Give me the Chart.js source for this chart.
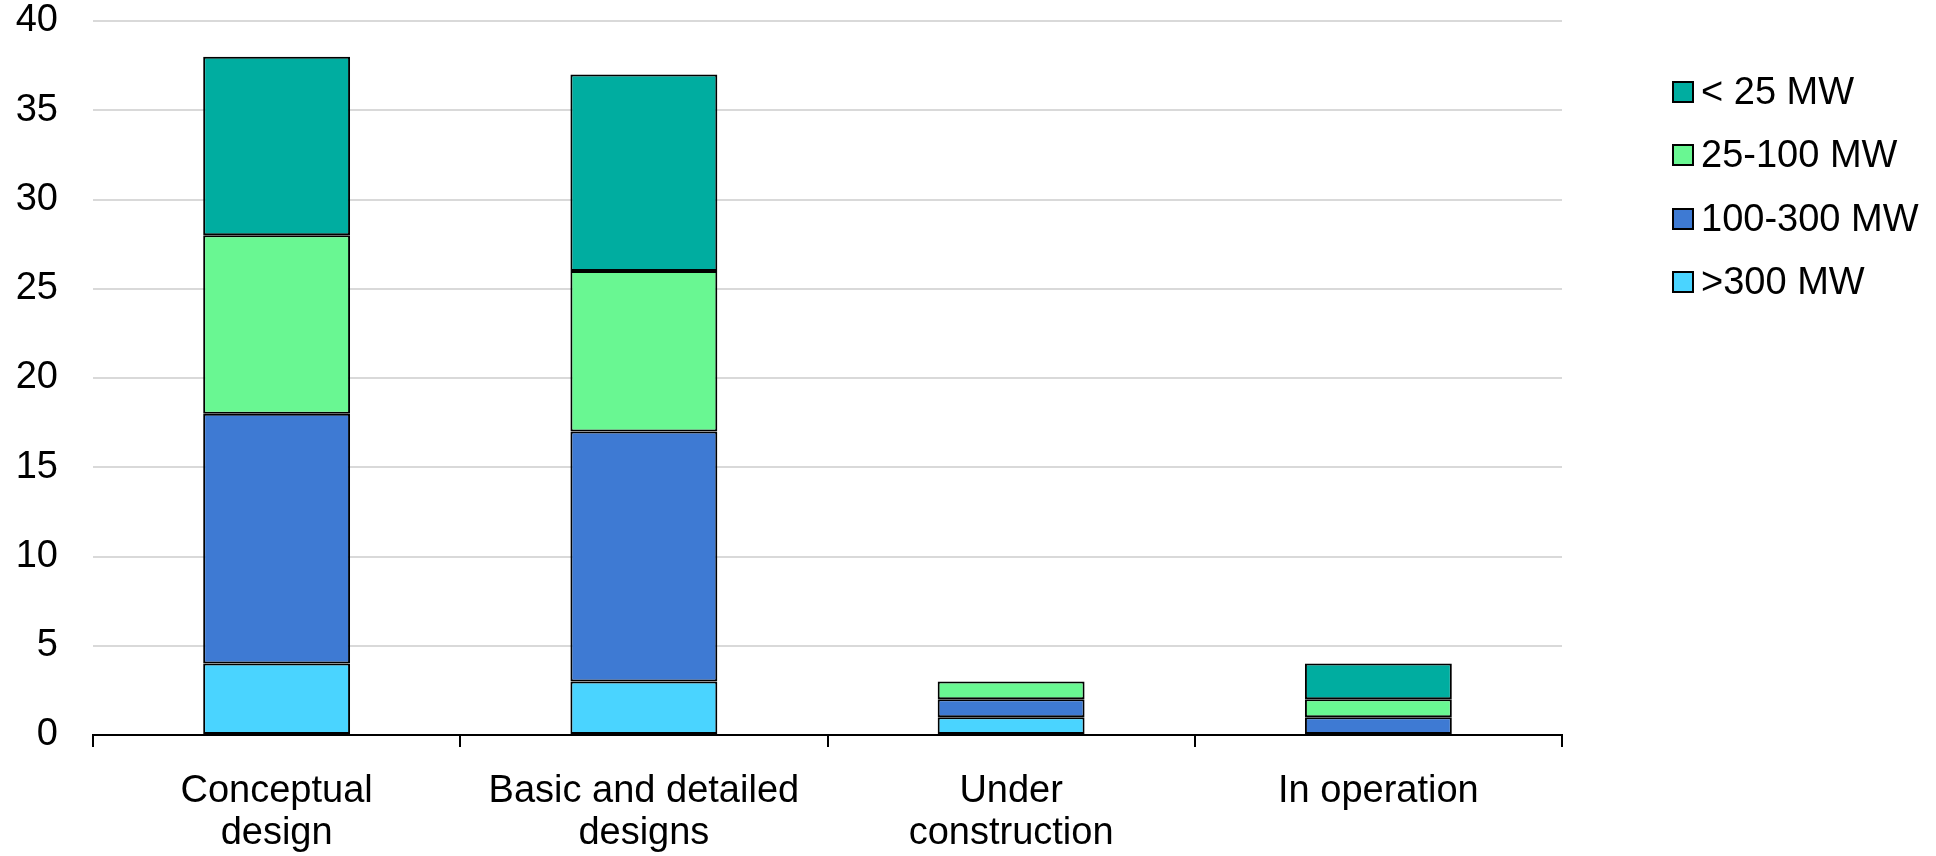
<!DOCTYPE html>
<html>
<head>
<meta charset="utf-8">
<title>Projects by stage and capacity</title>
<script src="https://cdn.jsdelivr.net/npm/chart.js@4.4.1/dist/chart.umd.min.js"></script>
<style>
  html, body { margin: 0; padding: 0; background: #ffffff; }
  #wrap { width: 1936px; height: 856px; position: relative; }
</style>
</head>
<body>
<div id="wrap"><canvas id="chart" width="1936" height="856"></canvas></div>
<script>
// Project stages along the x axis
const stages = [
  ['Conceptual', 'design'],
  ['Basic and detailed', 'designs'],
  ['Under', 'construction'],
  'In operation'
];

// Number of projects per capacity class, one value per stage
const over300MW   = [4, 3, 1, 0];
const mw100to300  = [14, 14, 1, 1];
const mw25to100   = [10, 9, 1, 1];
const under25MW   = [10, 11, 0, 2];

// Y axis range
const yMin = 0;
const yMax = 40;
const yStep = 5;

const FONT = '"Liberation Sans", Arial, Helvetica, sans-serif';
const FONT_SIZE = 38;

// Legend drawn at the right, top row = top of the stack
const sideLegend = {
  id: 'sideLegend',
  afterDraw(chart) {
    const ctx = chart.ctx;
    const items = chart.data.datasets.slice().reverse();
    const boxX = 1673, box = 20, textX = 1701, rowY0 = 92, rowGap = 63.3;
    ctx.save();
    ctx.font = FONT_SIZE + 'px ' + FONT;
    ctx.textBaseline = 'middle';
    ctx.textAlign = 'left';
    items.forEach((ds, i) => {
      const cy = Math.round(rowY0 + i * rowGap);
      ctx.fillStyle = ds.backgroundColor;
      ctx.fillRect(boxX, cy - box / 2, box, box);
      ctx.lineWidth = 2;
      ctx.strokeStyle = '#000000';
      ctx.strokeRect(boxX, cy - box / 2, box, box);
      ctx.fillStyle = '#000000';
      ctx.fillText(ds.label, textX, cy + 2);
    });
    ctx.restore();
  }
};

const barStyle = {
  borderColor: '#000000',
  borderWidth: 2,
  borderSkipped: false,
  barPercentage: 0.4,
  categoryPercentage: 1.0
};

new Chart(document.getElementById('chart'), {
  type: 'bar',
  data: {
    labels: stages,
    datasets: [
      Object.assign({ label: '>300 MW',    data: over300MW,  backgroundColor: '#4AD4FF' }, barStyle),
      Object.assign({ label: '100-300 MW', data: mw100to300, backgroundColor: '#3E7AD3' }, barStyle),
      Object.assign({ label: '25-100 MW',  data: mw25to100,  backgroundColor: '#69F792' }, barStyle),
      Object.assign({ label: '< 25 MW',    data: under25MW,  backgroundColor: '#00ADA0' }, barStyle)
    ]
  },
  options: {
    responsive: false,
    animation: false,
    layout: { padding: { top: 21, right: 374, left: 0, bottom: 0 } },
    plugins: {
      legend: { display: false },
      tooltip: { enabled: false }
    },
    scales: {
      x: {
        stacked: true,
        afterFit(scale) {
          scale.height = 121;
          scale.paddingLeft = 0;
          scale.paddingRight = 0;
        },
        border: { display: true, color: '#000000', width: 2 },
        grid: {
          offset: true,
          drawOnChartArea: false,
          drawTicks: true,
          tickLength: 12,
          color: '#000000',
          lineWidth: 2
        },
        ticks: {
          color: '#000000',
          padding: 24,
          maxRotation: 0,
          autoSkip: false,
          font: { family: FONT, size: FONT_SIZE, lineHeight: 1.1 }
        }
      },
      y: {
        stacked: true,
        min: yMin,
        max: yMax,
        afterFit(scale) {
          scale.width = 93;
          scale.paddingTop = 0;
          scale.paddingBottom = 0;
        },
        border: { display: false },
        grid: {
          color: '#D9D9D9',
          lineWidth: 2,
          drawTicks: false
        },
        ticks: {
          stepSize: yStep,
          color: '#000000',
          padding: 35,
          font: { family: FONT, size: FONT_SIZE }
        }
      }
    }
  },
  plugins: [sideLegend]
});
</script>
</body>
</html>
